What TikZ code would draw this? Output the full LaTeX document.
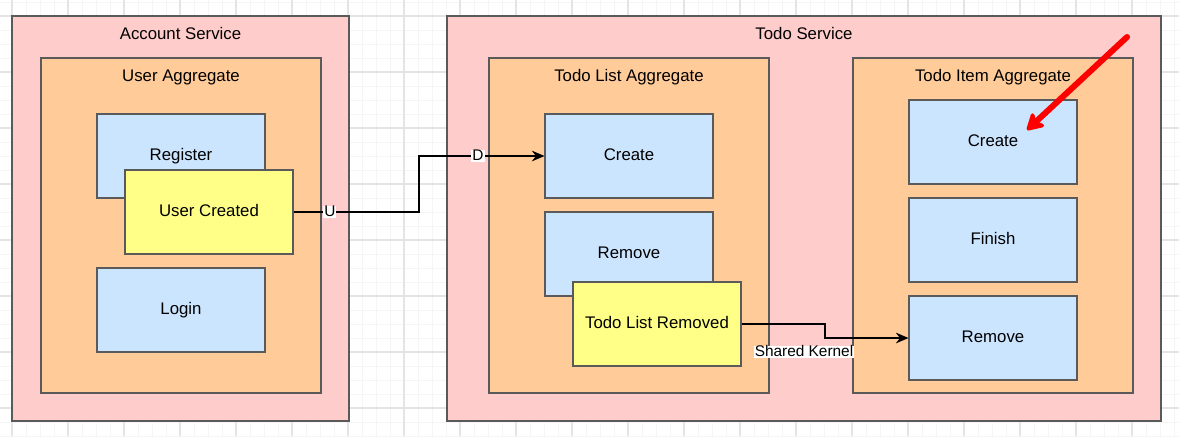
\documentclass[tikz,border=0pt]{standalone}
\usepackage{fontspec}
\setmainfont{Liberation Sans}
\usetikzlibrary{arrows.meta}
\definecolor{serviceFill}{HTML}{FFCCCC}
\definecolor{aggregateFill}{HTML}{FFCC99}
\definecolor{commandFill}{HTML}{CCE5FF}
\definecolor{eventFill}{HTML}{FFFF88}
\definecolor{boxLine}{HTML}{5A5A5A}
\definecolor{gridMinor}{HTML}{F5F5F5}
\definecolor{gridMajor}{HTML}{E4E4E4}
\newcommand{\diagramScale}{0.75}

\begin{document}
\begin{tikzpicture}[x=1pt, y=1pt, scale=\diagramScale, transform shape]
  \tikzset{
    box/.style={draw=boxLine, line width=1pt, inner sep=0pt},
    service/.style={box, fill=serviceFill, minimum width=337, minimum height=405},
    aggregate/.style={box, fill=aggregateFill, minimum width=280, minimum height=335},
    command/.style={box, fill=commandFill, minimum width=168, minimum height=84,
      font=\fontsize{16.8}{20}\selectfont, text height=1.75ex, text depth=0.1ex},
    event/.style={command, fill=eventFill},
    title/.style={inner sep=0pt, font=\fontsize{16.8}{20}\selectfont,
      text height=1.75ex, text depth=0.1ex},
    conn/.style={line width=1pt, -{Stealth[length=9.5pt, width=8pt]}},
    edgelabel/.style={fill=white, inner sep=1pt, font=\fontsize{15.4}{18}\selectfont,
      text height=1.75ex, text depth=0.1ex},
    pointer/.style={draw=red, line width=4.5pt, line cap=round,
      -{Stealth[length=15pt, width=17pt, inset=4pt, round]}}
  }
  \useasboundingbox (0,0) rectangle (1179,-436);
  % background grid
  \draw[gridMinor, line width=0.6pt, step=14, shift={(12,-16)}] (-12,16) grid (1167,-420);
  \draw[gridMajor, line width=0.8pt, step=56, shift={(12,-16)}] (-12,16) grid (1167,-420);

  % account service
  \node[service] (acct-svc) at (180.5,-218.5) {};
  \node[title] (acct-svc-title) at (180.5,-35) {Account Service};
  \node[aggregate] (user-agg) at (181,-225.5) {};
  \node[title] (user-agg-title) at (181,-77) {User Aggregate};
  \node[command] (user-reg) at (181,-156) {Register};
  \node[event] (user-created) at (209,-212) {User Created};
  \node[command] (user-login) at (181,-310) {Login};

  % todo service
  \node[service, minimum width=714] (todo-svc) at (804,-218.5) {};
  \node[title] (todo-svc-title) at (804,-35) {Todo Service};
  \node[aggregate] (list-agg) at (629,-225.5) {};
  \node[title] (list-agg-title) at (629,-77) {Todo List Aggregate};
  \node[command] (list-create) at (629,-156) {Create};
  \node[command] (list-remove) at (629,-254) {Remove};
  \node[event] (list-removed) at (657,-324) {Todo List Removed};
  \node[aggregate] (item-agg) at (993,-225.5) {};
  \node[title] (item-agg-title) at (993,-77) {Todo Item Aggregate};
  \node[command] (item-create) at (993,-142) {Create};
  \node[command] (item-finish) at (993,-240) {Finish};
  \node[command] (item-remove) at (993,-338) {Remove};

  % relations
  \coordinate (bend-1-1) at (419,-212);
  \coordinate (bend-1-2) at (419,-156);
  \draw[conn] (user-created.east) -- node[edgelabel, pos=0.29] (label-u) {U} (bend-1-1)
    -- (bend-1-2) -- node[edgelabel, pos=0.47] (label-d) {D} (list-create.west);
  \coordinate (bend-2-1) at (825,-324);
  \coordinate (bend-2-2) at (825,-338);
  \draw[conn] (list-removed.east) -- (bend-2-1) -- (bend-2-2) -- (item-remove.west);
  \node[edgelabel] (label-kernel) at (804,-352) {Shared Kernel};

  % pointer
  \coordinate (pointer-tail) at (1127,-37);
  \coordinate (pointer-tip) at (1027,-130);
  \draw[pointer] (pointer-tail) -- (pointer-tip);
\end{tikzpicture}
\end{document}
